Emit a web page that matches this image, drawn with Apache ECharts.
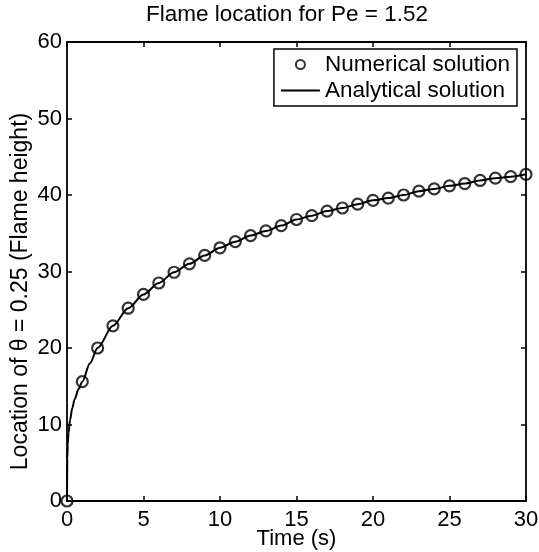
<!DOCTYPE html>
<html>
<head>
<meta charset="utf-8">
<script src="https://cdn.jsdelivr.net/npm/echarts@6/dist/echarts.min.js"></script>
<style>
  html, body { margin: 0; padding: 0; background: #fff; }
  #chart { width: 539px; height: 552px; }
</style>
</head>
<body>
<div id="chart"></div>
<script>
// numerical solution, one point per second
var numT = [0, 1, 2, 3, 4, 5, 6, 7, 8, 9, 10, 11, 12, 13, 14, 15, 16, 17, 18, 19, 20, 21, 22, 23, 24, 25, 26, 27, 28, 29, 30];
var numY = [0, 15.6, 20.0, 22.9, 25.2, 27.0, 28.5, 29.9, 31.0, 32.1, 33.1, 33.9, 34.7, 35.3, 36.0, 36.8, 37.3, 37.9, 38.3, 38.8, 39.3, 39.6, 40.0, 40.5, 40.8, 41.2, 41.5, 41.9, 42.2, 42.4, 42.7];

// analytical curve (denser near t = 0)
var anaT = [0, 0.02, 0.05, 0.1, 0.2, 0.35, 0.5, 0.75, 1, 1.5, 2, 3, 4, 5, 6, 7, 8, 9, 10, 11, 12, 13, 14, 15, 16, 17, 18, 19, 20, 21, 22, 23, 24, 25, 26, 27, 28, 29, 30];
var anaY = [0, 5.5, 7.4, 8.9, 10.6, 12.2, 13.3, 14.6, 15.6, 18.0, 20.0, 22.9, 25.2, 27.0, 28.5, 29.9, 31.0, 32.1, 33.1, 33.9, 34.7, 35.3, 36.0, 36.8, 37.3, 37.9, 38.3, 38.8, 39.3, 39.6, 40.0, 40.5, 40.8, 41.2, 41.5, 41.9, 42.2, 42.4, 42.7];

var font = "Liberation Sans, Arial, sans-serif";

function pairs(xs, ys) {
    return xs.map(function (x, i) { return [x, ys[i]]; });
}

var chart = echarts.init(document.getElementById("chart"));

var axisLine = { show: true, onZero: false, lineStyle: { color: "#000", width: 1.8 } };
var axisTick = { show: true, inside: true, length: 5, lineStyle: { color: "#000", width: 1.5 } };

chart.setOption({
    animation: false,
    backgroundColor: "#fff",
    title: {
        text: "Flame location for Pe = 1.52",
        left: 287,
        textAlign: "center",
        top: 3,
        padding: 0,
        textStyle: { fontFamily: font, fontSize: 22.5, fontWeight: "normal", color: "#000" }
    },
    legend: {
        orient: "vertical",
        right: 22,
        top: 49,
        align: "left",
        backgroundColor: "#fff",
        borderColor: "#000",
        borderWidth: 1.5,
        padding: [4, 7, 4, 7],
        itemGap: 3,
        itemWidth: 39,
        itemHeight: 9,
        textStyle: { fontFamily: font, fontSize: 22.5, color: "#000" },
        data: [
            { name: "Numerical solution", icon: "circle" },
            { name: "Analytical solution", icon: "path://M0,0H36V2H0Z" }
        ]
    },
    grid: { left: 67, right: 13, top: 42, bottom: 51, outerBoundsMode: "none" },
    xAxis: [
        {
            type: "value",
            min: 0, max: 30, interval: 5,
            name: "Time (s)",
            nameLocation: "middle",
            nameGap: 27,
            nameMoveOverlap: false,
            nameTextStyle: { fontFamily: font, fontSize: 22, color: "#000" },
            axisLine: axisLine,
            axisTick: axisTick,
            splitLine: { show: false },
            axisLabel: { fontFamily: font, fontSize: 22, color: "#000", margin: 8 }
        },
        {
            type: "value",
            position: "top",
            min: 0, max: 30, interval: 5,
            axisLine: axisLine,
            axisTick: axisTick,
            splitLine: { show: false },
            axisLabel: { show: false }
        }
    ],
    yAxis: [
        {
            type: "value",
            min: 0, max: 60, interval: 10,
            name: "Location of \u03b8 = 0.25 (Flame height)",
            nameLocation: "middle",
            nameGap: 35,
            nameMoveOverlap: false,
            nameTextStyle: { fontFamily: font, fontSize: 23, color: "#000", padding: [0, 40, 0, 0] },
            axisLine: axisLine,
            axisTick: axisTick,
            splitLine: { show: false },
            axisLabel: { fontFamily: font, fontSize: 22, color: "#000", margin: 5 }
        },
        {
            type: "value",
            position: "right",
            min: 0, max: 60, interval: 10,
            axisLine: axisLine,
            axisTick: axisTick,
            splitLine: { show: false },
            axisLabel: { show: false }
        }
    ],
    series: [
        {
            name: "Numerical solution",
            type: "scatter",
            data: pairs(numT, numY),
            symbol: "circle",
            symbolSize: 11,
            itemStyle: { color: "rgba(255,255,255,0)", borderColor: "#000", borderWidth: 2.2 },
            z: 3
        },
        {
            name: "Analytical solution",
            type: "line",
            data: pairs(anaT, anaY),
            symbol: "none",
            smooth: 0.3,
            smoothMonotone: "x",
            lineStyle: { color: "#000", width: 2 },
            itemStyle: { color: "#000" },
            z: 2
        }
    ]
});
</script>
</body>
</html>
